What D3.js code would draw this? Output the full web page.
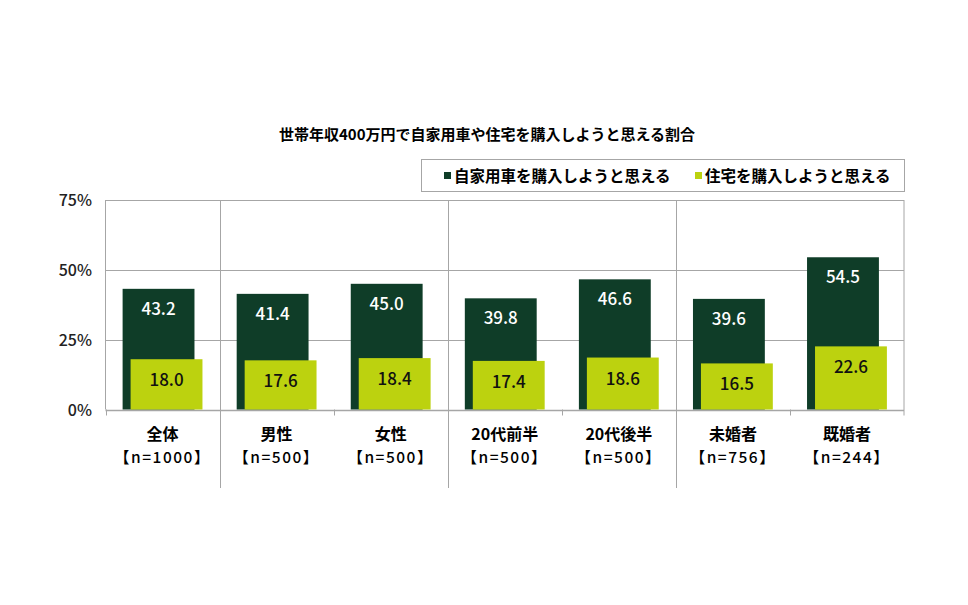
<!DOCTYPE html>
<html><head><meta charset="utf-8">
<script src="https://cdn.jsdelivr.net/npm/d3@7"></script>
<style>body{margin:0;background:#fff}text{font-family:"Noto Sans CJK JP",sans-serif}</style>
</head><body><svg id="c" width="968" height="605"></svg>
<script>
const categories = ["全体","男性","女性","20代前半","20代後半","未婚者","既婚者"];
const sampleLabels = ["【n=1000】","【n=500】","【n=500】","【n=500】","【n=500】","【n=756】","【n=244】"];
const carValues = [43.2,41.4,45.0,39.8,46.6,39.6,54.5];
const houseValues = [18.0,17.6,18.4,17.4,18.6,16.5,22.6];
const seriesNames = ["自家用車を購入しようと思える","住宅を購入しようと思える"];
const yTicks = [0,25,50,75];
const title = "世帯年収400万円で自家用車や住宅を購入しようと思える割合";
const groupBreaks = [1,3,5];

const svg = d3.select("#c");
const L=105.5, R=904, T=200, B=409.5;
const x = d3.scaleBand().domain(categories).range([L,R]).padding(0);
const y = d3.scaleLinear().domain([0,75]).range([B,T]);
const dark="#0f3d28", light="#bcd20f", grid="#a6a6a6";

svg.append("text").attr("x",487).attr("y",140).attr("text-anchor","middle")
  .attr("font-size",15).attr("font-weight","bold").text(title);

svg.append("rect").attr("x",421.5).attr("y",159.5).attr("width",483).attr("height",32).attr("fill","none").attr("stroke",grid);
const lg=[{x:444,c:dark,t:seriesNames[0]},{x:695,c:light,t:seriesNames[1]}];
lg.forEach(d=>{
  svg.append("rect").attr("x",d.x).attr("y",172).attr("width",7).attr("height",7).attr("fill",d.c);
  svg.append("text").attr("x",d.x+10).attr("y",182).attr("font-size",15.5).attr("font-weight","bold").text(d.t);
});

yTicks.forEach(t=>{
  svg.append("line").attr("x1",L).attr("x2",R).attr("y1",Math.round(y(t))+0.5).attr("y2",Math.round(y(t))+0.5)
    .attr("stroke",grid).attr("stroke-width",t===0?1.5:1);
  svg.append("text").attr("x",92).attr("y",y(t)+6).attr("text-anchor","end").attr("font-size",16).attr("font-weight",500).attr("fill","#222").text(t+"%");
});
svg.append("line").attr("x1",L).attr("x2",L).attr("y1",T).attr("y2",B).attr("stroke",grid);
svg.append("line").attr("x1",R).attr("x2",R).attr("y1",T).attr("y2",B+6).attr("stroke",grid);
categories.forEach((c,i)=>{
  const xx=Math.round(x(c))+0.5;
  if(groupBreaks.includes(i)) svg.append("line").attr("x1",xx).attr("x2",xx).attr("y1",T).attr("y2",488).attr("stroke",grid);
  else svg.append("line").attr("x1",xx).attr("x2",xx).attr("y1",B).attr("y2",B+6).attr("stroke",grid);
});

const bw=x.bandwidth();
categories.forEach((c,i)=>{
  const x0=x(c);
  svg.append("rect").attr("x",x0+bw*0.15).attr("width",bw*0.63).attr("y",y(carValues[i])).attr("height",B-y(carValues[i])).attr("fill",dark);
  svg.append("rect").attr("x",x0+bw*0.22).attr("width",bw*0.63).attr("y",y(houseValues[i])).attr("height",B-y(houseValues[i])).attr("fill",light);
  svg.append("text").attr("x",x0+bw*0.465).attr("y",y(carValues[i])+26).attr("text-anchor","middle").attr("font-size",17).attr("font-weight",500).attr("fill","#fff").text(carValues[i].toFixed(1));
  svg.append("text").attr("x",x0+bw*0.535).attr("y",y(houseValues[i])+27).attr("text-anchor","middle").attr("font-size",17).attr("font-weight",500).attr("fill","#111").text(houseValues[i].toFixed(1));
  svg.append("text").attr("x",x0+bw*0.5).attr("y",440).attr("text-anchor","middle").attr("font-size",16).attr("font-weight","bold").text(c);
  svg.append("text").attr("x",x0+bw*0.5).attr("y",463).attr("text-anchor","middle").attr("font-size",15.5).attr("font-weight",500).attr("letter-spacing",1.5).text(sampleLabels[i]);
});
</script></body></html>
